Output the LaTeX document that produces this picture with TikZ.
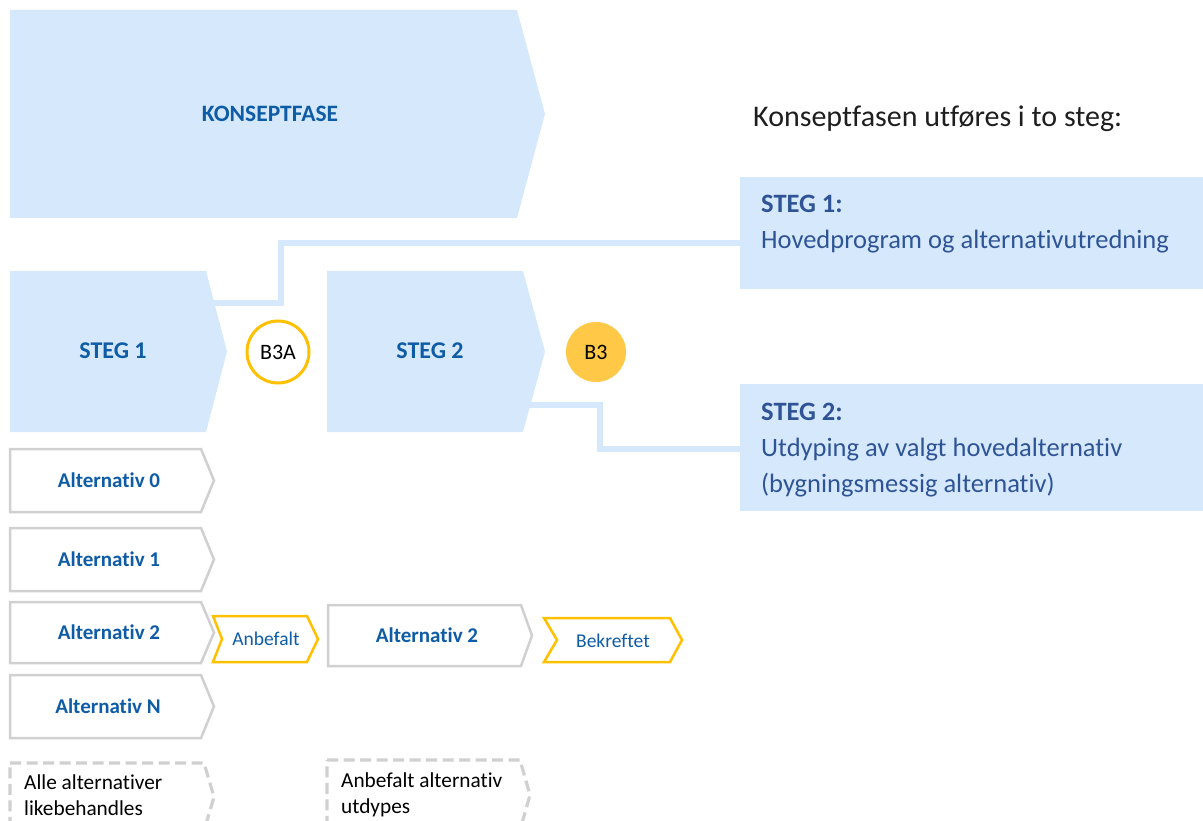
\documentclass[tikz,border=0pt]{standalone}
\usepackage{fontspec}
\setmainfont{Carlito}[Ligatures={NoCommon}]
\usetikzlibrary{calc}
\definecolor{fillblue}{RGB}{214,233,252}
\definecolor{chevtext}{RGB}{14,92,166}
\definecolor{boxtext}{RGB}{47,84,150}
\definecolor{altgray}{RGB}{208,208,208}
\definecolor{gold}{RGB}{255,192,0}
\definecolor{goldfill}{RGB}{255,201,71}
\definecolor{titlegray}{RGB}{30,30,30}
\newcommand\fs[1]{\fontsize{#1}{#1}\selectfont}
% #1 path style, #2 body node, #3 tip length, #4 notch depth
\newcommand\chevron[4][]{%
  \path[#1] (#2.north west) -- (#2.north east) -- ($(#2.east)+(#3,0)$)
    -- (#2.south east) -- (#2.south west) -- ($(#2.west)+(#4,0)$) -- cycle;}
\begin{document}
\begin{tikzpicture}[x=1pt,y=-1pt,
  body/.style={rectangle, inner sep=0, outer sep=0, anchor=north west},
  chevlabel/.style={font=\bfseries\fs{24}, text=chevtext, anchor=base, inner sep=0},
  altlabel/.style={font=\bfseries\fs{21}, text=chevtext, anchor=base, inner sep=0},
  taglabel/.style={font=\fs{19.5}, text=chevtext, anchor=base, inner sep=0},
  notelabel/.style={font=\fs{21.3}, text=black, anchor=base west, inner sep=0},
  boxlabel/.style={font=\fs{26.5}, text=boxtext, anchor=base west, inner sep=0},
  conn/.style={draw=fillblue, line width=5.5},
  bluefill/.style={fill=fillblue},
  altline/.style={draw=altgray, fill=white, line width=2.5, line join=miter},
  goldline/.style={draw=gold, fill=white, line width=2.5, line join=miter},
  dashline/.style={draw=altgray, line width=3.2, dash pattern=on 11pt off 5.5pt},
  milestone/.style={circle, inner sep=0, minimum size=62, font=\fs{22}, text=black}
]
\useasboundingbox (0,0) rectangle (1203,821);
\clip (0,0) rectangle (1203,821);

% body nodes of chevrons
\node[body, minimum width=507, minimum height=208] (kf) at (10,10) {};
\node[body, minimum width=196, minimum height=161] (s1) at (10,271) {};
\node[body, minimum width=196, minimum height=161] (s2) at (327,271) {};
\node[body, minimum width=191, minimum height=63] (a0) at (10,449) {};
\node[body, minimum width=191, minimum height=63] (a1) at (10,528) {};
\node[body, minimum width=191, minimum height=61] (a2) at (10,602) {};
\node[body, minimum width=191, minimum height=63] (an) at (10,675) {};
\node[body, minimum width=94, minimum height=46] (anb) at (213,616) {};
\node[body, minimum width=193, minimum height=61] (a2b) at (328,605) {};
\node[body, minimum width=126, minimum height=44] (bek) at (544,618) {};
\node[body, minimum width=194, minimum height=68] (d1) at (10,763) {};
\node[body, minimum width=193, minimum height=70] (d2) at (327,760) {};

% right-hand boxes
\node[body, bluefill, minimum width=463, minimum height=112] (b1) at (740,177) {};
\node[body, bluefill, minimum width=463, minimum height=127] (b2) at (740,384) {};

% connectors
\coordinate (c1) at (208,303);
\coordinate (j1) at (281,243);
\coordinate (c2) at (524,405);
\coordinate (j2) at (600,449);
\draw[conn] (c1) -| (j1) -- (j1 -| b1.west);
\draw[conn] (c2) -| (j2) -- (j2 -| b2.west);

% chevron shapes
\chevron[bluefill]{kf}{28}{0}
\chevron[bluefill]{s1}{21}{0}
\chevron[bluefill]{s2}{22}{0}
\chevron[altline]{a0}{13}{0}
\chevron[altline]{a1}{13}{0}
\chevron[altline]{a2}{13}{0}
\chevron[altline]{an}{13}{0}
\chevron[goldline]{anb}{11}{9}
\chevron[altline]{a2b}{11}{0}
\chevron[goldline]{bek}{12}{13}
\chevron[dashline]{d1}{10}{0}
\chevron[dashline]{d2}{10}{0}

% milestones
\node[milestone, draw=gold, line width=3, fill=white] (b3a) at (278,352) {B3A};
\node[milestone, fill=goldfill, minimum size=60] (b3) at (596,352) {B3};

% labels
\node[chevlabel, font=\bfseries\fs{23.5}] (kft) at (270,122) {KONSEPTFASE};
\node[chevlabel] (s1t) at (113,359) {STEG 1};
\node[chevlabel] (s2t) at (430,359) {STEG 2};
\node[altlabel] (a0t) at (109,487) {Alternativ 0};
\node[altlabel] (a1t) at (109,566) {Alternativ 1};
\node[altlabel] (a2t) at (109,639) {Alternativ 2};
\node[altlabel] (ant) at (108,713) {Alternativ N};
\node[altlabel] (a2bt) at (427,642) {Alternativ 2};
\node[taglabel] (anbt) at (266,645) {Anbefalt};
\node[taglabel] (bekt) at (613,647) {Bekreftet};
\node[notelabel] (d1t1) at (24,789) {Alle alternativer};
\node[notelabel] (d1t2) at (24,815) {likebehandles};
\node[notelabel] (d2t1) at (341,787) {Anbefalt alternativ};
\node[notelabel] (d2t2) at (341,813) {utdypes};

\node[anchor=base west, inner sep=0, font=\fs{30}, text=titlegray] (title) at (753,127) {Konseptfasen utføres i to steg:};
\node[boxlabel, font=\bfseries\fs{26.5}] (b1h) at (761,213) {STEG 1:};
\node[boxlabel] (b1t) at (761,249) {Hovedprogram og alternativutredning};
\node[boxlabel, font=\bfseries\fs{26.5}] (b2h) at (761,420) {STEG 2:};
\node[boxlabel] (b2t1) at (761,456) {Utdyping av valgt hovedalternativ};
\node[boxlabel] (b2t2) at (761,492) {(bygningsmessig alternativ)};
\end{tikzpicture}
\end{document}
